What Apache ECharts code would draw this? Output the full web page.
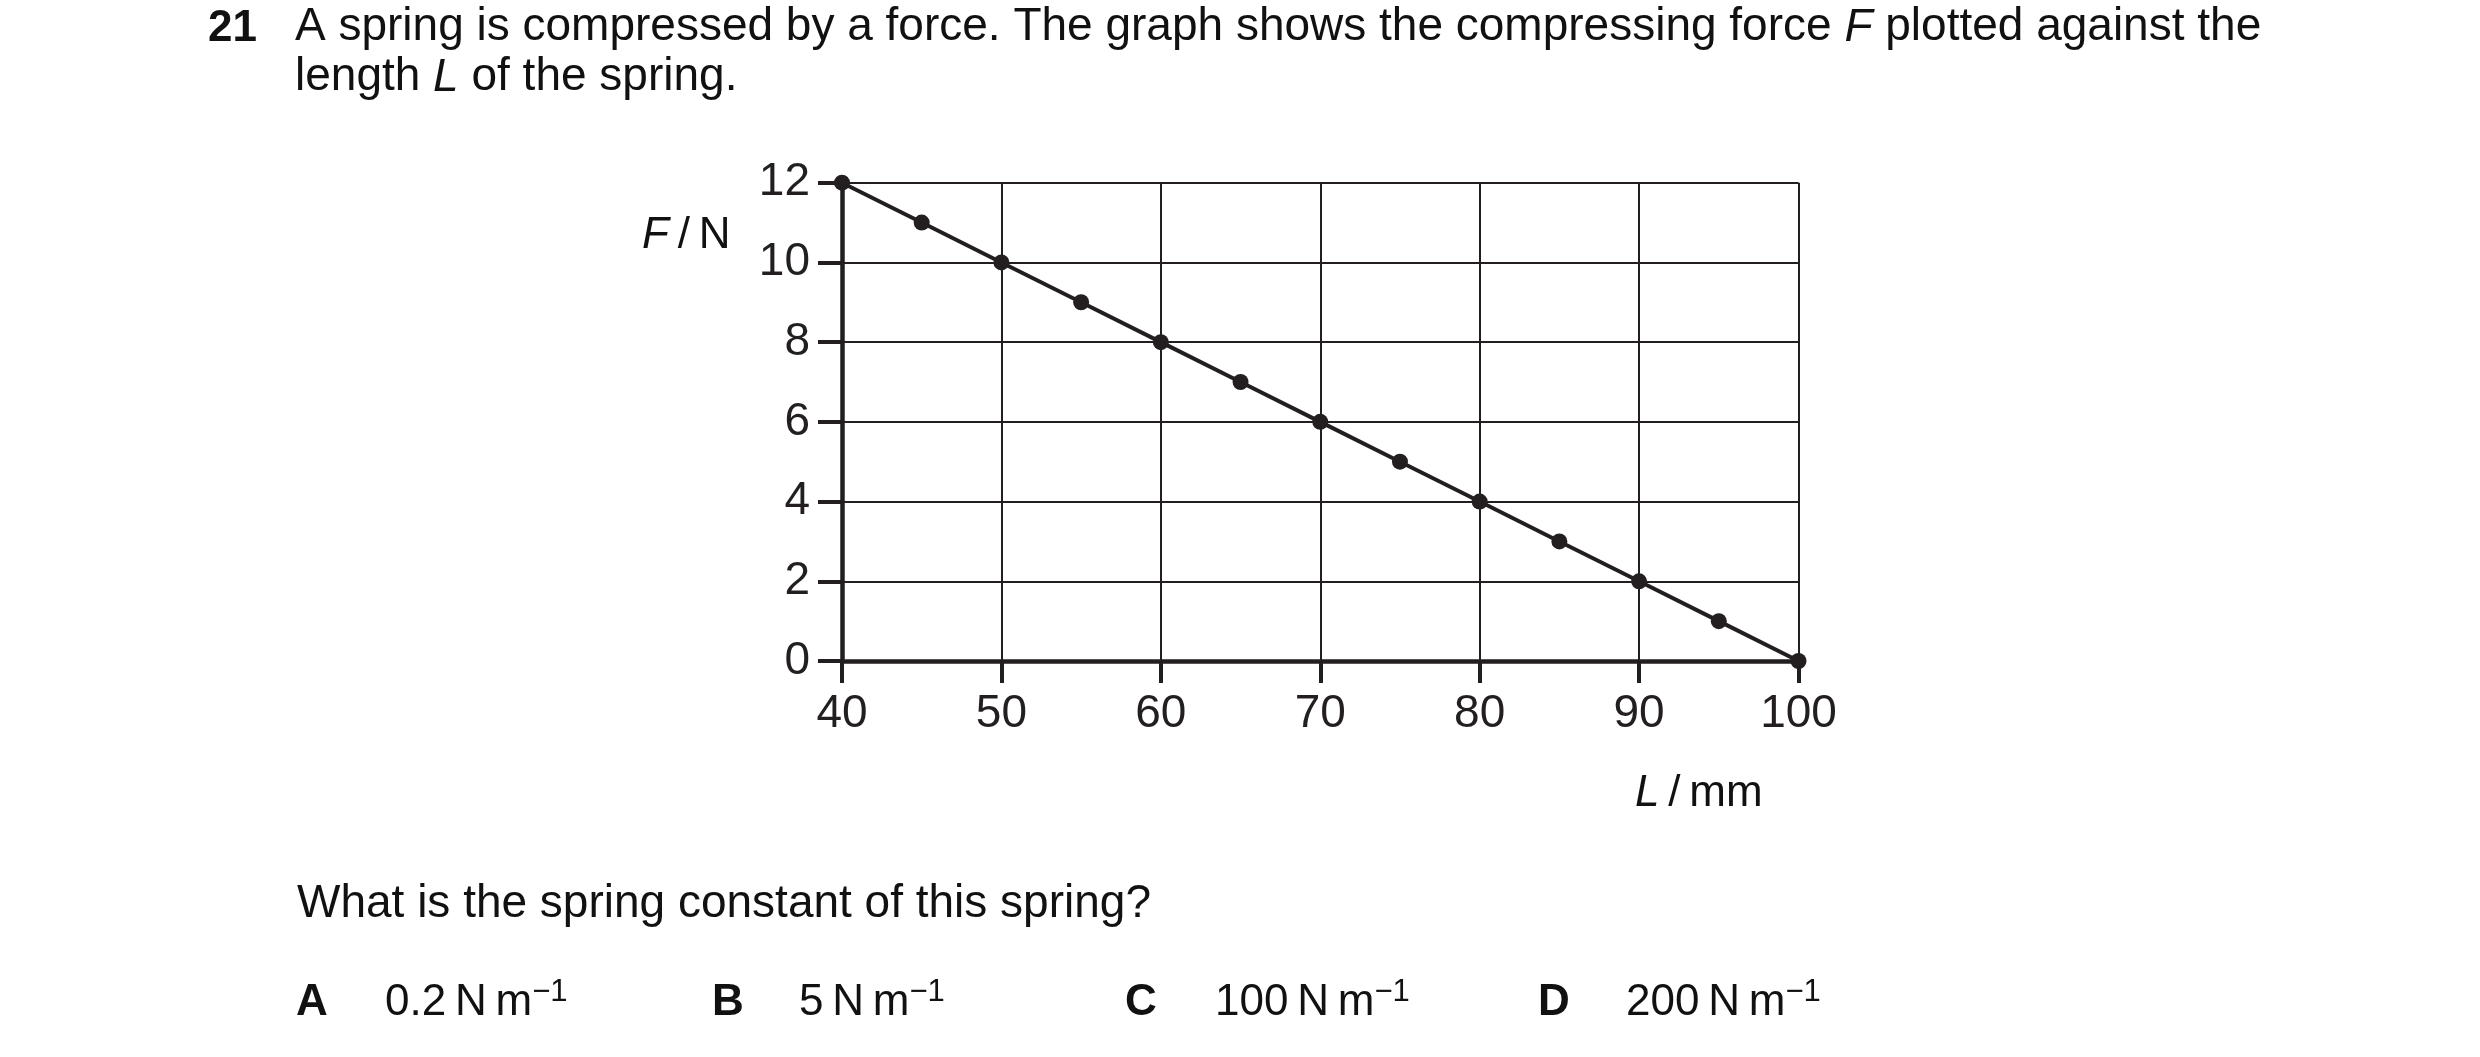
<!DOCTYPE html>
<html><head><meta charset="utf-8">
<script src="https://cdn.jsdelivr.net/npm/echarts@6/dist/echarts.min.js"></script>
<style>html,body{margin:0;padding:0;background:#fff}#c{width:2480px;height:1057px}</style>
</head><body><div id="c"></div>
<script>
// ---- data ----
const lengthMm = [40, 45, 50, 55, 60, 65, 70, 75, 80, 85, 90, 95, 100];
const forceN   = [12, 11, 10, 9, 8, 7, 6, 5, 4, 3, 2, 1, 0];
const xRange = [40, 100];
const xStep = 10;
const yRange = [0, 12];
const yStep = 2;
const questionNo = '21';
const questionLine1 = ['A spring is compressed by a force. The graph shows the compressing force ', 'F', ' plotted against the'];
const questionLine2 = ['length ', 'L', ' of the spring.'];
const yAxisName = ['F', '\u2009/\u2009N'];
const xAxisName = ['L', '\u2009/\u2009mm'];
const prompt = 'What is the spring constant of this spring?';
const optionLetters = ['A', 'B', 'C', 'D'];
const optionValues = ['0.2', '5', '100', '200'];
const optionUnit = 'N\u2009m';
const optionExp = '\u22121';

// ---- styling ----
const FF = '"Liberation Sans", Arial, Helvetica, sans-serif';
const INK = '#231f20';
const TXT = '#111';
const tok = (size, extra) => Object.assign({fontSize: size, fontFamily: FF, fill: TXT, color: TXT, lineHeight: 50}, extra || {});
const richBody = {
  t: tok(46),
  i: tok(46, {fontStyle: 'italic'}),
  b: tok(46, {fontWeight: 'bold'})
};
const richOpt = {
  t: tok(44),
  i: tok(44, {fontStyle: 'italic'}),
  b: tok(44, {fontWeight: 'bold'}),
  s: tok(31, {verticalAlign: 'top', lineHeight: 31})
};

function txt(x, yBase, str, size, rich) {
  return {
    type: 'text', x: x, y: yBase - 0.31 * size, silent: true,
    style: {text: str, rich: rich, fontSize: size, fontFamily: FF, fill: TXT,
            align: 'left', verticalAlign: 'middle', textAlign: 'left', textVerticalAlign: 'middle'}
  };
}
const graphics = [
  txt(208, 42, '{b|' + questionNo + '}', 44, richOpt),
  txt(295, 42, '{t|' + questionLine1[0] + '}{i|' + questionLine1[1] + '}{t|' + questionLine1[2] + '}', 46, richBody),
  txt(295, 92, '{t|' + questionLine2[0] + '}{i|' + questionLine2[1] + '}{t|' + questionLine2[2] + '}', 46, richBody),
  txt(642, 249, '{i|' + yAxisName[0] + '}{t|' + yAxisName[1] + '}', 44, richOpt),
  txt(1635, 807, '{i|' + xAxisName[0] + '}{t|' + xAxisName[1] + '}', 44, richOpt),
  txt(297, 919, '{t|' + prompt + '}', 46, richBody)
];
const letterX = [296, 712, 1125, 1538];
const valueX = [385, 799, 1215, 1626];
optionLetters.forEach((L, k) => {
  graphics.push(txt(letterX[k], 1016, '{b|' + L + '}', 44, richOpt));
  graphics.push(txt(valueX[k], 1016, '{t|' + optionValues[k] + '\u2009' + optionUnit + '}{s|' + optionExp + '}', 44, richOpt));
});

const chart = echarts.init(document.getElementById('c'), null, {renderer: 'canvas'});
chart.setOption({
  backgroundColor: '#fff',
  animation: false,
  grid: {left: 842, right: 2480 - 1798.5, top: 182.7, bottom: 1057 - 661, containLabel: false},
  xAxis: {
    type: 'value', min: xRange[0], max: xRange[1], interval: xStep,
    axisLine: {show: true, onZero: false, lineStyle: {color: INK, width: 4.5}},
    axisTick: {show: true, inside: false, length: 22, lineStyle: {color: INK, width: 4}},
    axisLabel: {show: true, margin: 30, fontSize: 46, fontFamily: FF, color: INK},
    splitLine: {show: true, lineStyle: {color: INK, width: 2}}
  },
  yAxis: {
    type: 'value', min: yRange[0], max: yRange[1], interval: yStep,
    axisLine: {show: true, onZero: false, lineStyle: {color: INK, width: 4.5}},
    axisTick: {show: true, inside: false, length: 24, lineStyle: {color: INK, width: 4}},
    axisLabel: {show: true, margin: 32, fontSize: 46, fontFamily: FF, color: INK},
    splitLine: {show: true, lineStyle: {color: INK, width: 2}}
  },
  series: [{
    type: 'line',
    data: lengthMm.map((x, k) => [x, forceN[k]]),
    symbol: 'circle', symbolSize: 16, showSymbol: true,
    lineStyle: {color: INK, width: 4},
    itemStyle: {color: INK},
    clip: false, z: 5
  }],
  graphic: graphics
});
</script></body></html>
